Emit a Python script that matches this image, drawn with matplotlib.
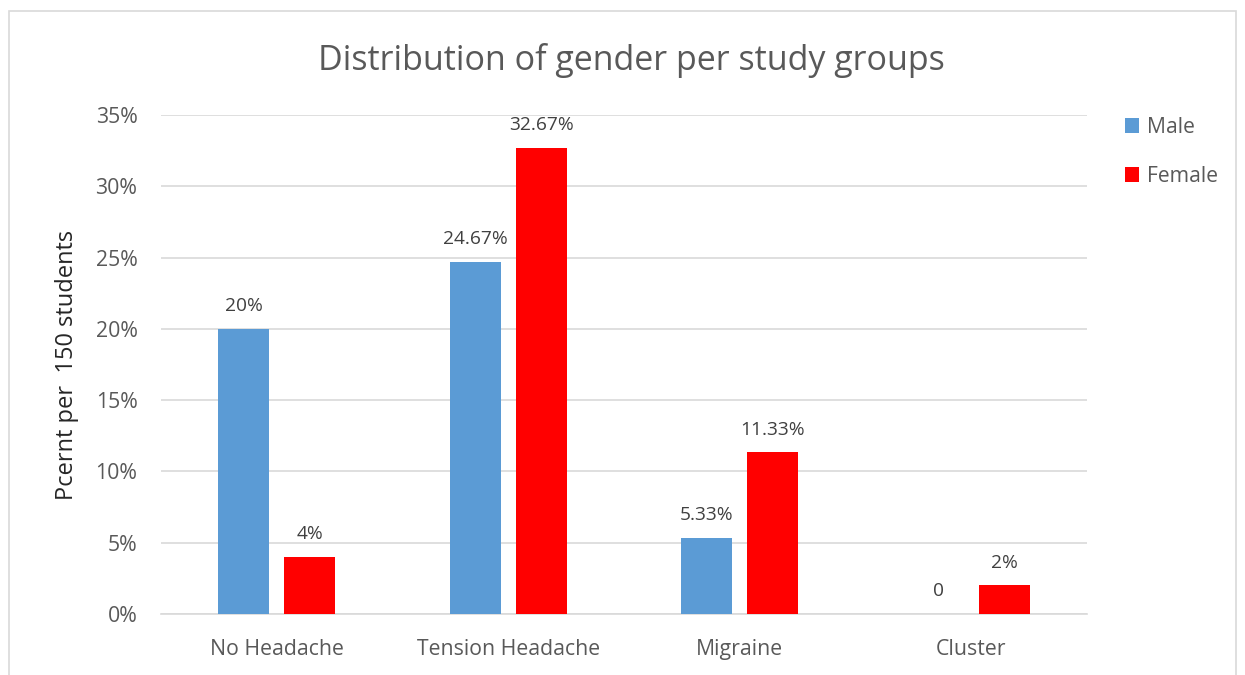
import matplotlib
matplotlib.use("Agg")
import matplotlib.pyplot as plt
import numpy as np
from matplotlib.patches import Rectangle

categories = ["No Headache", "Tension Headache", "Migraine", "Cluster"]
male = [20, 24.67, 5.33, 0]
female = [4, 32.67, 11.33, 2]
male_labels = ["20%", "24.67%", "5.33%", "0"]
female_labels = ["4%", "32.67%", "11.33%", "2%"]
yticks = [0, 5, 10, 15, 20, 25, 30, 35]
ytick_labels = ["0%", "5%", "10%", "15%", "20%", "25%", "30%", "35%"]

plt.rcParams['font.family'] = ['Open Sans', 'DejaVu Sans']
fig = plt.figure(figsize=(12.45, 6.75), dpi=100)
ax = fig.add_axes([161/1245, 1-614/675, (1087-161)/1245, (614-115)/675])

x = np.arange(len(categories))
w = 0.22
off = 0.143
male_color = "#5b9bd5"
female_color = "#ff0000"
ax.bar(x - off, male, w, color=male_color, label="Male", zorder=3)
ax.bar(x + off, female, w, color=female_color, label="Female", zorder=3)

for i in range(len(categories)):
    ax.annotate(male_labels[i], (x[i] - off, male[i]), xytext=(0, 10), textcoords="offset points",
                ha="center", va="bottom", fontsize=13.8, color="#404040")
    ax.annotate(female_labels[i], (x[i] + off, female[i]), xytext=(0, 10), textcoords="offset points",
                ha="center", va="bottom", fontsize=13.8, color="#404040")

ax.set_xlim(-0.5, len(categories) - 0.5)
ax.set_ylim(0, 35)
ax.set_yticks(yticks)
ax.set_yticklabels(ytick_labels)
ax.set_xticks(x)
ax.set_xticklabels(categories)
ax.tick_params(axis="both", length=0, labelsize=15.3, labelcolor="#595959")
ax.tick_params(axis="y", pad=17)
ax.tick_params(axis="x", pad=18)
ax.grid(axis="y", color="#d9d9d9", linewidth=1.2, zorder=0)
for s in ["top", "right", "left"]:
    ax.spines[s].set_visible(False)
ax.spines["bottom"].set_color("#d9d9d9")
ax.spines["bottom"].set_linewidth(1.2)

ax.set_ylabel("Pcernt per  150 students", fontsize=17, color="#262626", labelpad=12)

fig.text(631/1245, 1-60/675, "Distribution of gender per study groups", ha="center",
         va="center", fontsize=24.5, color="#595959")

leg = ax.legend(loc="upper left", bbox_to_anchor=(1.02, 1.035), frameon=False,
                fontsize=15.2, handlelength=0.7, handleheight=0.7, labelspacing=1.35,
                handletextpad=0.35, labelcolor="#595959")

fig.patches.append(Rectangle((9/1245, -0.02), (1236-9)/1245, 1.02-11/675, transform=fig.transFigure,
                             fill=False, edgecolor="#d9d9d9", linewidth=1.2))

fig.savefig("out.png", dpi=100, facecolor="white")
